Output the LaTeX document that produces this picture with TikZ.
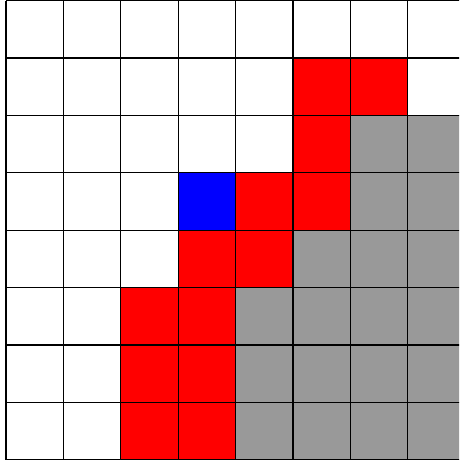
\documentclass[tikz,border=0pt]{standalone}
\definecolor{cellred}{RGB}{255,0,0}
\definecolor{cellblue}{RGB}{0,0,255}
\definecolor{cellgray}{RGB}{153,153,153}
\begin{document}
\begin{tikzpicture}[x=1pt,y=-1pt,
  cell/.style={line width=1pt,draw=black},
  gridline/.style={line width=1.1pt,draw=black}]
\useasboundingbox (0,0) rectangle (459,463);
\clip (0,0) rectangle (459,463);
\def\cw{57.4}
\def\ox{6}
\def\oy{0.6}
% red cells (col,row)
\foreach \c/\r in {5/1,6/1,5/2,4/3,5/3,3/4,4/4,2/5,3/5,2/6,3/6,2/7,3/7}
  \fill[cellred] (\ox+\c*\cw,\oy+\r*\cw) rectangle ++(\cw,\cw);
% gray cells
\foreach \c/\r in {6/2,7/2,6/3,7/3,5/4,6/4,7/4,4/5,5/5,6/5,7/5,4/6,5/6,6/6,7/6,4/7,5/7,6/7,7/7}
  \fill[cellgray] (\ox+\c*\cw,\oy+\r*\cw) rectangle ++(\cw,\cw);
% blue cell
\fill[cellblue] (\ox+3*\cw,\oy+3*\cw) rectangle ++(\cw,\cw);
% grid
\foreach \i in {0,...,8}{
  \draw[gridline] (\ox+\i*\cw,\oy) -- (\ox+\i*\cw,\oy+8*\cw);
  \draw[gridline] (\ox,\oy+\i*\cw) -- (\ox+8*\cw,\oy+\i*\cw);
}
\end{tikzpicture}
\end{document}
